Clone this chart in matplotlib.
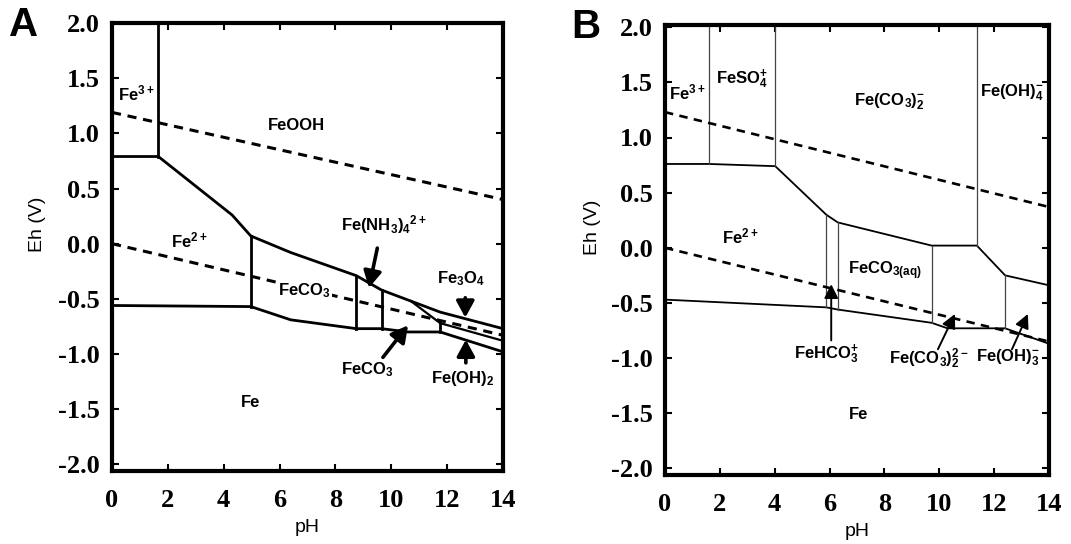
import matplotlib
matplotlib.use("Agg")
import matplotlib.pyplot as plt

plt.rcParams["font.family"] = ["Liberation Sans", "DejaVu Sans"]
plt.rcParams["mathtext.fontset"] = "custom"
plt.rcParams["mathtext.rm"] = "Liberation Sans:bold"
plt.rcParams["mathtext.it"] = "Liberation Sans:bold"
plt.rcParams["mathtext.bf"] = "Liberation Sans:bold"
plt.rcParams["mathtext.sf"] = "Liberation Sans:bold"

# ---------------- axes ----------------
PH_TICKS = [0, 2, 4, 6, 8, 10, 12, 14]
EH_TICKS = [2.0, 1.5, 1.0, 0.5, 0.0, -0.5, -1.0, -1.5, -2.0]
PH_RANGE = [0, 14]

# ---------------- panel A ----------------
a_top_ph = [0, 1.66, 4.3, 4.97, 6.4, 8.75, 9.65, 11.75, 14]
a_top_eh = [0.79, 0.79, 0.26, 0.07, -0.08, -0.29, -0.42, -0.62, -0.77]
a_fe3o4_ph = [10.7, 11.75, 14]
a_fe3o4_eh = [-0.52, -0.72, -0.88]
a_fe_ph = [0, 4.97, 6.4, 8.75, 9.65, 10.6, 11.75, 14]
a_fe_eh = [-0.56, -0.57, -0.69, -0.77, -0.77, -0.80, -0.80, -0.98]
a_vert_ph = [1.66, 4.97, 8.75, 9.65, 11.75]
a_vert_top = [2.0, 0.07, -0.29, -0.42, -0.72]
a_vert_bot = [0.79, -0.57, -0.77, -0.77, -0.80]
a_o2_eh = [1.19, 0.40]
a_h2_eh = [0.0, -0.83]

a_labels = ["Fe$^{3+}$", "FeOOH", "Fe$^{2+}$", "FeCO$_3$", "Fe(NH$_3$)$_4$$^{2+}$",
            "Fe$_3$O$_4$", "FeCO$_3$", "Fe(OH)$_2$", "Fe"]
a_label_ph = [0.85, 6.6, 2.75, 6.9, 9.75, 12.5, 9.15, 12.55, 4.97]
a_label_eh = [1.36, 1.07, 0.03, -0.43, 0.17, -0.32, -1.14, -1.22, -1.44]
a_label_masked = [False, False, False, True, False, False, False, False, False]

a_arrow_tail = [(9.5, -0.04), (12.65, -0.49), (9.7, -1.03), (12.67, -1.08)]
a_arrow_head = [(9.2, -0.40), (12.65, -0.67), (10.6, -0.74), (12.67, -0.87)]

# ---------------- panel B ----------------
b_top_ph = [0, 1.61, 4.02, 5.88, 6.3, 9.72, 11.37, 12.4, 14]
b_top_eh = [0.76, 0.76, 0.74, 0.30, 0.23, 0.02, 0.02, -0.25, -0.34]
b_fe_ph = [0, 5.88, 6.3, 9.72, 10.3, 12.4, 14]
b_fe_eh = [-0.47, -0.54, -0.56, -0.68, -0.73, -0.73, -0.87]
b_vert_ph = [1.61, 4.02, 11.37, 9.72, 5.88, 6.3, 12.4]
b_vert_top = [2.0, 2.0, 2.0, 0.02, 0.30, 0.23, -0.25]
b_vert_bot = [0.76, 0.74, 0.02, -0.68, -0.54, -0.56, -0.73]
b_o2_eh = [1.23, 0.37]
b_h2_eh = [0.0, -0.85]

b_labels = ["Fe$^{3+}$", "FeSO$_4^{+}$", "Fe(CO$_3$)$_2^{-}$", "Fe(OH)$_4^{-}$",
            "Fe$^{2+}$", "FeCO$_{3(aq)}$", "FeHCO$_3^{+}$", "Fe(CO$_3$)$_2^{2-}$",
            "Fe(OH)$_3^{-}$", "Fe"]
b_label_ph = [0.82, 2.8, 8.2, 12.65, 2.75, 8.0, 5.9, 9.6, 12.5, 7.05]
b_label_eh = [1.41, 1.53, 1.32, 1.41, 0.10, -0.21, -0.96, -1.01, -1.0, -1.51]

b_arrow_tail = [(6.06, -0.84), (9.95, -0.92), (12.65, -0.92)]
b_arrow_head = [(6.06, -0.33), (10.57, -0.60), (13.23, -0.60)]


def style_axes(ax, ylim):
    ax.set_xlim(PH_RANGE)
    ax.set_ylim(ylim)
    ax.set_xticks(PH_TICKS)
    ax.set_yticks(EH_TICKS)
    ax.set_yticklabels([f"{v:.1f}" for v in EH_TICKS])
    for s in ax.spines.values():
        s.set_linewidth(3.0)
    ax.tick_params(direction="in", length=5, width=1.5, top=True, right=True,
                   labelsize=19)
    ax.tick_params(axis="y", pad=9)
    ax.tick_params(axis="x", pad=13)
    for lab in ax.get_xticklabels() + ax.get_yticklabels():
        lab.set_fontfamily("Liberation Serif")
        lab.set_fontweight("bold")
    ax.text(-0.19, 0.55, "Eh (V)", transform=ax.transAxes, rotation=90,
            ha="center", va="center", fontsize=14)
    ax.text(0.5, -0.125, "pH", transform=ax.transAxes,
            ha="center", va="center", fontsize=14)


fig = plt.figure(figsize=(10.71, 5.44), dpi=100)
axA = fig.add_axes([112 / 1071, 73 / 544, 391 / 1071, 448 / 544])
axB = fig.add_axes([665 / 1071, 69 / 544, 384 / 1071, 450 / 544])

# ---- panel A drawing ----
lwA = 2.0
axA.plot(a_top_ph, a_top_eh, color="k", lw=lwA, solid_joinstyle="round")
axA.plot(a_fe3o4_ph, a_fe3o4_eh, color="k", lw=1.6, solid_joinstyle="round")
axA.plot(a_fe_ph, a_fe_eh, color="k", lw=lwA, solid_joinstyle="round")
for p, t, b in zip(a_vert_ph, a_vert_top, a_vert_bot):
    axA.plot([p, p], [b, t], color="k", lw=lwA)
axA.plot(PH_RANGE, a_o2_eh, color="k", lw=2.2, dashes=(3, 2.2))
axA.plot(PH_RANGE, a_h2_eh, color="k", lw=2.2, dashes=(3, 2.2))
for txt, x, y, masked in zip(a_labels, a_label_ph, a_label_eh, a_label_masked):
    box = dict(facecolor="white", edgecolor="none", pad=1.0) if masked else None
    axA.text(x, y, txt, ha="center", va="center", fontsize=12,
             fontweight="bold", bbox=box, zorder=3)
for tail, head in zip(a_arrow_tail, a_arrow_head):
    axA.annotate("", xy=head, xytext=tail,
                 arrowprops=dict(arrowstyle="-|>,head_length=0.55,head_width=0.3",
                                 mutation_scale=18, lw=2.6, color="k",
                                 shrinkA=0, shrinkB=0))
style_axes(axA, (-2.06, 2.0))

# ---- panel B drawing ----
axB.plot(b_top_ph, b_top_eh, color="k", lw=1.3, solid_joinstyle="round")
axB.plot(b_fe_ph, b_fe_eh, color="k", lw=1.3, solid_joinstyle="round")
for p, t, b in zip(b_vert_ph, b_vert_top, b_vert_bot):
    axB.plot([p, p], [b, t], color="#444444", lw=0.9)
axB.plot(PH_RANGE, b_o2_eh, color="k", lw=1.9, dashes=(3.2, 2.4))
axB.plot(PH_RANGE, b_h2_eh, color="k", lw=1.9, dashes=(3.2, 2.4))
for txt, x, y in zip(b_labels, b_label_ph, b_label_eh):
    axB.text(x, y, txt, ha="center", va="center", fontsize=12, fontweight="bold")
for tail, head in zip(b_arrow_tail, b_arrow_head):
    axB.annotate("", xy=head, xytext=tail,
                 arrowprops=dict(arrowstyle="-|>,head_length=0.6,head_width=0.3",
                                 mutation_scale=14, lw=1.4, color="k",
                                 shrinkA=0, shrinkB=0))
style_axes(axB, (-2.06, 2.02))

fig.text(24 / 1071, 1 - 25 / 544, "A", ha="center", va="center",
         fontsize=29, fontweight="bold")
fig.text(586 / 1071, 1 - 27 / 544, "B", ha="center", va="center",
         fontsize=29, fontweight="bold")

fig.savefig("out.png", dpi=100, facecolor="white")
